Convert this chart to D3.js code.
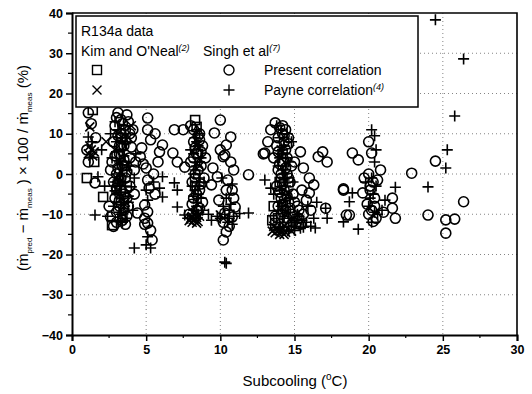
<!DOCTYPE html>
<html>
<head>
<meta charset="utf-8">
<script src="https://cdn.jsdelivr.net/npm/d3@7"></script>
<style>
  body { margin: 0; background: #fff; }
  text { font-family: "Liberation Sans", Arial, sans-serif; fill: #000; }
</style>
</head>
<body>
<div id="chart"></div>
<script>
// tick values
const xTicks = [0, 5, 10, 15, 20, 25, 30];
const yTicks = [-40, -30, -20, -10, 0, 10, 20, 30, 40];

// Kim and O'Neal data, present correlation (squares)
const kimPresent = [[1.4,15.9],[1.5,3],[1.0,-1],[2.1,-5.7],[2.7,-12.7],[3.4,-10.7],[3.0,-4],[3.6,2],[3.3,9],
  [8.3,13.4],[8.4,11.7],[8.5,5],[8.3,-3],[13.9,-11],[13.7,-12.2],[14.2,5],[14.0,-2],[13.6,-8],[13.5,-11.5]];

// Kim and O'Neal data, Payne correlation (crosses)
const kimPayne = [[1.2,11.7],[1.1,5],[1.3,6],[1.5,5.5],[1.2,7],[1.4,4.5],[2.3,8],[3.0,-1],[3.3,3],[2.9,6],
  [3.5,-8],[3.8,9],[4.0,12],[3.2,-2],[3.6,-7],[3.4,4],[3.1,10],
  [8.0,-11],[8.2,-11.4],[8.4,-10.8],[8.1,-12],[8.5,-11.8],[8.3,-10.2],[8.6,2],[8.4,7],
  [8.3,-11.2],[8.1,-10.6],[8.4,-12.2],[8.6,-10.5],[7.9,-11.6],
  [10,-10.2],[10.2,-11],[13.6,-13],[13.9,-14],[14.2,-13.5],[14.0,-15],[14.4,-14.5],[13.7,-14.6],
  [14.3,-12.8],[14.6,-5],[14.1,6],[14.1,-14.2],[13.8,-13.4],[14.3,-15],[13.5,-14.2],[14.5,-13.6],[14.8,-14.2]];

// Singh et al data, present correlation (circles)
const singhPresent = [[1.1,15.2],[1.3,12.5],[1.1,3],[1.55,-2.2],[1.6,9],[1.0,6],
  [3.1,15.2],[3.7,14.7],[3.8,13],[3.6,11],[4.1,11],[4.0,9],[4.0,6.7],[2.9,12],[3.3,10],[2.8,8],[3.5,7],
  [3.2,5],[3.9,4],[2.7,3],[3.4,2],[4.2,1],[3.0,0],[3.6,-1],[2.8,-2],[3.9,-3],[3.3,-4],[2.9,-6],[3.7,-6],
  [3.2,-8],[2.6,-10.7],[3.5,-9],[3.0,-12],[3.6,-12.5],[2.8,-13],[4.2,-5],[3.1,-2.5],[2.6,1],[4.3,3],[2.5,-8],
  [3.0,14],[3.4,12.5],[3.1,9.5],[3.6,8.5],[3.2,7],[2.9,4.5],[3.5,3.5],[3.1,1.5],[3.7,0.5],[3.3,-1],
  [3.0,-3.5],[3.5,-5],[3.2,-6.5],[3.8,-8],[3.0,-9.5],[3.4,-11.5],[3.7,-10.5],[3.3,13.5],[3.9,10],
  [5.1,13.9],[5.1,11],[5.3,8.5],[6.1,7.2],[5.9,5.5],[5.8,3],[4.7,6.5],[4.6,4.3],[5.0,1.5],[5.1,-1.5],
  [4.9,-7.7],[5.1,-9.4],[5.1,-12.2],[4.9,-11],[4.4,-9.7],[4.9,-12.5],[5.3,-14],[5.4,-16.4],[5.5,0],
  [5.2,-3.5],[5.6,-5],[4.8,2.5],[5.6,10],
  [6.9,11],[7.5,11],[6.8,5.2],[7.1,3],[7.6,1.7],[8.0,12],[8.6,10],[8.2,8],[8.8,7],[8.4,5],[8.0,3],[8.7,2],
  [8.3,0],[8.9,-1],[8.1,-2],[8.6,-4],[8.2,-6],[8.8,-7],[8.4,-9],[7.9,-10],[8.5,9.5],[9.0,4],
  [8.2,11],[8.6,8.5],[8.3,6.5],[8.7,5.5],[8.2,4],[8.5,1],[8.3,-1],[8.7,-2.5],[8.4,-5],[8.1,-7.5],[8.6,-8.5],
  [8.3,-10.5],
  [10,13.4],[9.6,10.2],[10.7,9.2],[10.4,7.2],[10.3,4.7],[10.7,3],[10.2,4.3],[9.5,1.5],[9.8,-0.7],[9.4,-2.7],
  [10.4,-4],[10.8,-4],[10.9,-6],[11,-8.2],[10.3,-9.7],[10.8,-10.7],[10.4,-14.4],[10.2,-16.4],[10.6,-13],
  [11.9,-0.2],[10.0,6],[10.9,1],[10.5,-1.5],[9.9,-6.5],[10.2,-12],
  [13.7,12.7],[13.4,11],[13,5.2],[13.2,8],[14.2,10],[14.6,9],[13.8,7],[14.4,6],[13.6,4],[14.2,3],[14.8,2],
  [13.9,1],[14.5,0],[14.1,-1],[14.7,-2],[13.8,-3],[14.3,-4],[14.9,-5],[14.1,-6],[14.6,-7],[13.9,-8],
  [14.4,-9],[14.8,-10],[13.7,-10.5],
  [14.0,11.5],[14.3,8],[13.9,5.5],[14.5,4],[14.0,2.5],[14.4,1.5],[14.1,0],[14.6,-1],[14.2,-2.5],[14.0,-4.5],
  [14.5,-5.5],[14.2,-7.5],[14.7,-8.5],[14.1,-10],[14.5,-11],[15.0,-7],[15.3,-9],[14.9,-12],[15.4,-12.5],
  [14.3,9.5],[13.9,9],[14.4,11],[14.2,12],[14.6,7.5],
  [15.4,5.5],[15,3],[15.6,1.5],[16.6,4.3],[16.9,5.5],[17.2,3],[15.5,-4],[16,-4.7],[16.3,-2.7],[15.8,-6.5],
  [15.2,-8],[15.6,-10],[16.1,-9],[15.3,-11],[17.1,-8.5],[12.9,5],[18.3,-4],[18.5,-10.2],[16,-1],
  [18.9,5.2],[19.3,3.5],[20.2,5.2],[18.3,-3.7],[19.6,-4.7],[20,0],[20.3,-2],[20.1,-4],[20.4,-6],[19.9,-7.5],
  [20.2,-9],[20.5,-11],[21.6,-6],[21.6,-8.5],[21.8,-11],[18.7,-10.2],[19.7,-1],[20.6,-1.5],[20.8,1],
  [21,-9.5],[20.0,8],[20.1,-3],[20.4,-8],[20.0,-10],[20.3,-11.8],
  [22.9,0.2],[24.5,3.2],[26.4,-6.9],[24,-10.2],[25.2,-11.4],[25.8,-11.2],[25.2,-14.7]];

// Singh et al data, Payne correlation (plus signs)
const singhPayne = [[1.35,8],[1.1,9.2],[1.75,-0.7],[1.55,-10.2],[1.2,4],[2.0,6],[2.2,-3],
  [2.6,10],[3.0,8],[3.4,6],[2.7,4],[3.8,2],[3.2,0],[2.9,-2],[3.6,-3],[4.0,-3.2],[3.1,-5],[3.8,-7],[2.8,-8],
  [3.3,-10],[2.4,-10.5],[4.1,-9],[3.5,12],[2.9,13],[4.2,-1],[4.3,5],[3.1,-11.5],
  [3.1,11],[3.3,9],[3.6,7.5],[3.0,5.5],[3.5,4.5],[3.2,3],[3.7,1],[3.4,-0.5],[3.1,-1.5],[3.6,-4.5],[3.3,-6],
  [3.0,-7],[3.5,-8.5],[3.2,-9.5],[3.6,-11],[3.4,-12],[2.9,-4.2],[3.8,-5.5],
  [3.3,1.5],[3.5,-2],[3.2,-3],[3.4,8],[3.6,10],[3.3,-7.5],
  [6.1,-5.7],[6.1,-0.7],[5.1,-6.5],[5.1,-15.6],[5.0,-17.6],[4.2,-18.4],[5.3,-18.4],[5.5,-2],[5.9,-3.5],[5.0,-4],
  [6.9,-2.2],[7.1,-4],[7.1,-8.2],[7.6,-10.2],[8.1,-3],[8.5,-5],[8.9,-2],[8.3,1],[8.7,4],[8.0,6],[8.4,-8],
  [8.8,-9],[9.2,-10],[7.8,-11],[8.6,10],[9.4,-11.5],
  [8.3,9],[8.5,7],[8.2,5],[8.6,3],[8.4,2],[8.2,0],[8.6,-1],[8.3,-4],[8.7,-6],[8.2,-9],[8.5,-10],[8.4,11],
  [8.4,-7],[8.3,3],[8.5,-3],[8.4,8],[8.2,-5.5],
  [10.3,-21.9],[10.4,-22.2],[11.9,-9.7],[10.2,-8],[10.6,-9],[10.0,-11],[10.9,-10.5],[10.5,-12],[10.1,-1],
  [10.8,-2.5],[11.3,-9.8],[9.8,-10.5],[10.4,-6],[10.7,-7.5],[10.3,-10],[10.6,-11],[10.8,-12.5],
  [13,-1.5],[13.4,-3.5],[13.6,-5],[14.0,-7],[14.5,-8],[13.9,-9],[14.7,-11],[14.2,-12],[15,-13],[14.6,-14],
  [13.9,2],[14.4,4],[14.8,8],[14.1,11],[14.9,-2],[14.3,0],[15.2,-10],[15.8,-12],[16.1,-13],[15.5,-11.5],
  [16.3,-11],[15.9,-8],[16.5,-7],
  [14.0,9],[14.3,7],[14.1,5],[14.6,3],[14.2,1],[14.5,-1],[14.0,-2],[14.4,-3],[14.2,-5],[14.7,-6],[14.1,-8],
  [14.6,-9.5],[14.3,-10.5],[14.9,-11.5],[15.1,-12],[15.4,-13.5],[15.0,-14],[14.8,-13],[15.6,-13.2],
  [15.3,-10.5],[13.8,12],
  [14.2,6],[14.4,2],[14.1,-4],[14.4,-6.5],[14.2,-9],[14.5,10],[14.3,-1.5],[14.0,4],
  [17.1,-8.5],[17.2,-11],[16.4,-13.4],
  [20.4,3],[18.9,-4.7],[18.7,-6.9],[21.8,-3.3],[18.3,-11.9],[19.3,-13.7],[20.2,11],[20.4,9.5],[20.5,6],
  [20.3,-5],[20.0,-8],[20.6,-10],[19.8,-2],[21.1,-6.5],[20.9,-9],
  [20.2,-1],[20.5,-3],[20.1,-6],[20.4,-9.5],[20.2,-12],
  [24.5,38.3],[26.4,28.6],[25.8,14.4],[25.3,6],[25.2,1.5],[24,-3.2]];

const width = 532, height = 394;
const x = d3.scaleLinear().domain([0, 30]).range([72, 517]);
const y = d3.scaleLinear().domain([-40, 40]).range([335, 13]);

const svg = d3.select("#chart").append("svg")
  .attr("width", width).attr("height", height)
  .attr("viewBox", [0, 0, width, height]);

// dotted grid
svg.append("g").selectAll("line")
  .data(xTicks.slice(1, -1))
  .join("line")
  .attr("x1", d => x(d)).attr("x2", d => x(d))
  .attr("y1", y(40)).attr("y2", y(-40))
  .attr("stroke", "#666").attr("stroke-width", 0.8).attr("stroke-dasharray", "1,3");
svg.append("g").selectAll("line")
  .data(yTicks.slice(1, -1))
  .join("line")
  .attr("x1", x(0)).attr("x2", x(30))
  .attr("y1", d => y(d)).attr("y2", d => y(d))
  .attr("stroke", "#666").attr("stroke-width", 0.8).attr("stroke-dasharray", "1,3");

// axes
let xAxis = d3.axisBottom(x).tickValues(xTicks).tickSize(6).tickPadding(4)
let yAxis = d3.axisLeft(y).tickValues(yTicks).tickSize(6).tickPadding(3)

let gx = svg.append("g").attr("transform", `translate(0,${y(-40)})`).call(xAxis)
let gy = svg.append("g").attr("transform", `translate(${x(0)},0)`).call(yAxis)
for (let g of [gx, gy]) {
  g.select(".domain").attr("stroke-width", 2)
  g.selectAll(".tick line").attr("stroke-width", 1.5)
  g.selectAll(".tick text")
    .attr("font-family", "Liberation Sans, Arial, sans-serif")
    .attr("font-size", 12.5).attr("font-weight", "bold")
}

// minor ticks
svg.append("g").selectAll("line")
  .data(d3.range(2.5, 30, 5))
  .join("line")
  .attr("x1", d => x(d)).attr("x2", d => x(d))
  .attr("y1", y(-40)).attr("y2", y(-40) + 3)
  .attr("stroke", "#000").attr("stroke-width", 1.2);
svg.append("g").selectAll("line")
  .data(d3.range(-35, 40, 10))
  .join("line")
  .attr("x1", x(0) - 4).attr("x2", x(0))
  .attr("y1", d => y(d)).attr("y2", d => y(d))
  .attr("stroke", "#000").attr("stroke-width", 1.2);

// top and right frame
svg.append("path")
  .attr("d", `M${x(0)},${y(40)}H${x(30)}V${y(-40)}`)
  .attr("fill", "none").attr("stroke", "#000").attr("stroke-width", 1.6);

// marker shapes
const markers = {
  square: g => g.append("rect").attr("x", -4.5).attr("y", -4.5).attr("width", 9).attr("height", 9),
  circle: g => g.append("circle").attr("r", 5),
  cross: g => g.append("path").attr("d", "M-4.5,-4.5L4.5,4.5M-4.5,4.5L4.5,-4.5"),
  plus: g => g.append("path").attr("d", "M-5.5,0H5.5M0,-5.5V5.5")
};

function drawSeries(data, shape) {
  let g = svg.append("g")
    .attr("fill", "none").attr("stroke", "#000").attr("stroke-width", 1.6)
  g.selectAll("g")
    .data(data)
    .join("g")
    .attr("transform", d => `translate(${x(d[0])},${y(d[1])})`)
    .each(function () { markers[shape](d3.select(this)) })
}

drawSeries(singhPresent, "circle")
drawSeries(kimPresent, "square")
drawSeries(singhPayne, "plus")
drawSeries(kimPayne, "cross")

// legend
let lg = svg.append("g")
lg.append("rect")
  .attr("x", 76).attr("y", 16).attr("width", 342).attr("height", 91)
  .attr("fill", "#fff").attr("stroke", "#000").attr("stroke-width", 1.5)

let legendText = (tx, ty, label, sup) => {
  let t = lg.append("text").attr("x", tx).attr("y", ty).attr("font-size", 14).text(label)
  if (sup) t.append("tspan").attr("dy", -5).attr("font-size", 9).attr("font-style", "italic").text(sup)
}
legendText(81, 36, "R134a data")
legendText(81, 56, "Kim and O'Neal", "(2)")
legendText(203, 56, "Singh et al", "(7)")
legendText(264, 75, "Present correlation")
legendText(264, 95, "Payne correlation", "(4)")

let legendMarker = (mx, my, shape) => {
  let g = lg.append("g").attr("transform", `translate(${mx},${my})`)
    .attr("fill", "none").attr("stroke", "#000").attr("stroke-width", 1.4)
  markers[shape](g)
}
legendMarker(97, 70, "square")
legendMarker(229, 70, "circle")
legendMarker(97, 90, "cross")
legendMarker(229, 90, "plus")

// x axis title
let xt = svg.append("text")
  .attr("x", 295).attr("y", 386)
  .attr("text-anchor", "middle").attr("font-size", 15)
xt.append("tspan").text("Subcooling (")
xt.append("tspan").attr("dy", -6).attr("font-size", 10).text("o")
xt.append("tspan").attr("dy", 6).text("C)")

// y axis title
let yt = svg.append("text")
  .attr("transform", "translate(28,168) rotate(-90)")
  .attr("text-anchor", "middle").attr("font-size", 15)
yt.append("tspan").text("(ṁ")
yt.append("tspan").attr("dy", 4).attr("font-size", 8).text("pred")
yt.append("tspan").attr("dy", -4).text(" − ṁ")
yt.append("tspan").attr("dy", 4).attr("font-size", 8).text("meas")
yt.append("tspan").attr("dy", -4).text(" ) × 100 / ṁ")
yt.append("tspan").attr("dy", 4).attr("font-size", 8).text("meas")
yt.append("tspan").attr("dy", -4).text("  (%)")
</script>
</body>
</html>
